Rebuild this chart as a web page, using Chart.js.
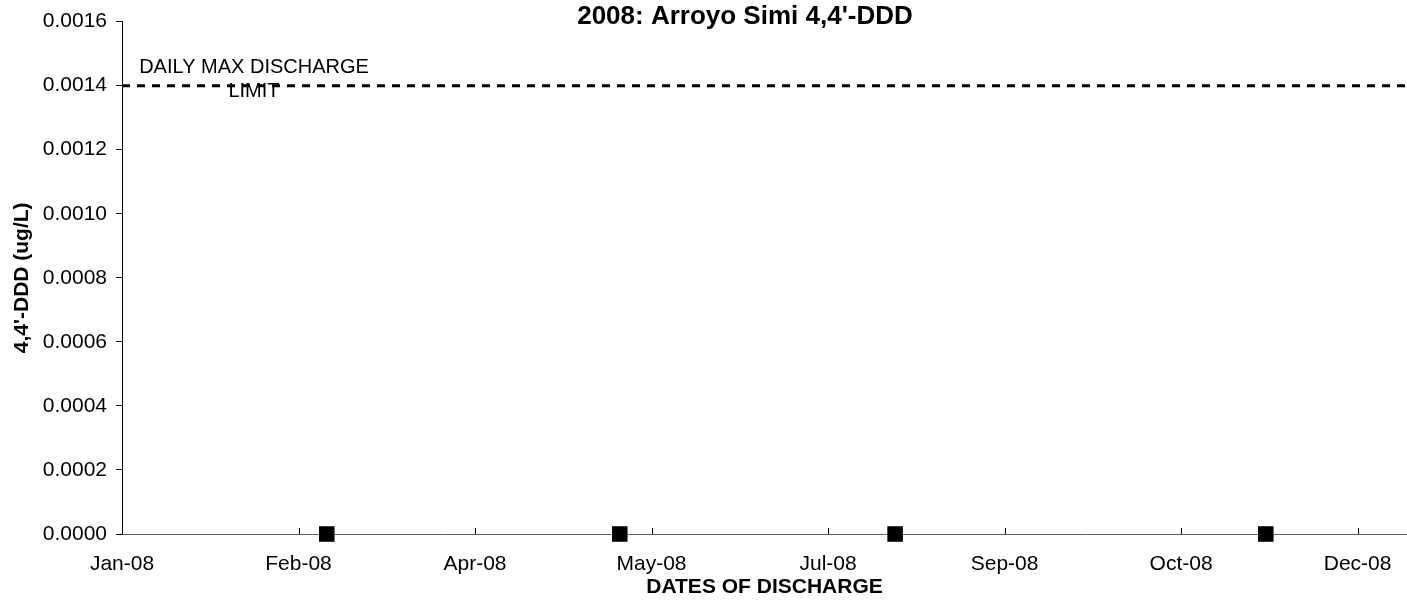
<!DOCTYPE html>
<html>
<head>
<meta charset="utf-8">
<script src="https://cdn.jsdelivr.net/npm/chart.js@4/dist/chart.umd.min.js"></script>
<style>
  html, body { margin: 0; padding: 0; background: #fff; }
  #wrap { width: 1407px; height: 600px; position: relative; }
</style>
</head>
<body>
<div id="wrap"><canvas id="chart"></canvas></div>
<script>
// sample dates and measured 4,4'-DDD (ug/L)
const sampleDates = ['2008-02-28', '2008-05-21', '2008-08-07', '2008-11-20'];
const dddValues = [0, 0, 0, 0];

// daily max discharge limit
const limitValue = 0.0014;
const limitLabel = ['DAILY MAX DISCHARGE', 'LIMIT'];

// axis range in days from 1 Jan 2008, ticks every 50 days (Excel style)
const xMin = 0, xMax = 364, xStep = 50;
const yMin = 0, yMax = 0.0016, yStep = 0.0002;

const chartTitle = "2008: Arroyo Simi 4,4'-DDD";
const xTitle = 'DATES OF DISCHARGE';
const yTitle = "4,4'-DDD (ug/L)";

const MONTHS = ['Jan','Feb','Mar','Apr','May','Jun','Jul','Aug','Sep','Oct','Nov','Dec'];
const base = Date.UTC(2008, 0, 1);
const toDay = s => (Date.parse(s + 'T00:00:00Z') - base) / 864e5;
const dayLabel = v => {
  const d = new Date(base + v * 864e5);
  return MONTHS[d.getUTCMonth()] + '-' + String(d.getUTCFullYear()).slice(2);
};

const FONT = "'Liberation Sans', Arial, sans-serif";

const extras = {
  id: 'extras',
  afterDraw(chart) {
    const {ctx, chartArea, scales} = chart;
    const x = scales.x, y = scales.y;
    ctx.save();
    // inward ticks on the x axis
    ctx.strokeStyle = '#000';
    ctx.lineWidth = 1;
    x.ticks.forEach(t => {
      const px = Math.round(x.getPixelForValue(t.value)) + 0.5;
      ctx.beginPath();
      ctx.moveTo(px, chartArea.bottom);
      ctx.lineTo(px, chartArea.bottom - 6);
      ctx.stroke();
    });
    // title
    ctx.fillStyle = '#000';
    ctx.font = 'bold 26px ' + FONT;
    ctx.textAlign = 'center';
    ctx.textBaseline = 'alphabetic';
    ctx.fillText(chartTitle, 745, 24);
    // limit label
    ctx.textBaseline = 'middle';
    ctx.font = '20px ' + FONT;
    const ly = y.getPixelForValue(limitValue);
    ctx.fillText(limitLabel[0], chartArea.left + 132, ly - 18);
    ctx.fillText(limitLabel[1], chartArea.left + 132, ly + 6);
    ctx.restore();
  }
};

new Chart(document.getElementById('chart'), {
  type: 'scatter',
  data: {
    datasets: [
      {
        label: 'limit',
        data: [{x: xMin, y: limitValue}, {x: xMax, y: limitValue}],
        showLine: true,
        borderColor: '#000',
        borderWidth: 3,
        borderDash: [8, 7],
        pointRadius: 0,
        fill: false
      },
      {
        label: "4,4'-DDD",
        data: sampleDates.map((d, i) => ({x: toDay(d), y: dddValues[i]})),
        pointStyle: 'rect',
        pointRadius: 11,
        pointHoverRadius: 11,
        backgroundColor: '#000',
        borderColor: '#000',
        borderWidth: 0,
        clip: false
      }
    ]
  },
  options: {
    responsive: true,
    maintainAspectRatio: false,
    animation: false,
    layout: { autoPadding: false, padding: { top: 20, right: 0, bottom: 0, left: 0 } },
    plugins: { legend: { display: false }, tooltip: { enabled: false } },
    scales: {
      x: {
        type: 'linear',
        min: xMin,
        max: xMax,
        afterFit(s) { s.height = 66; s.paddingRight = 0; },
        grid: { display: false, drawTicks: false },
        border: { display: true, color: '#606060', width: 1 },
        ticks: {
          stepSize: xStep,
          includeBounds: false,
          autoSkip: false,
          maxRotation: 0,
          padding: 18,
          color: '#000',
          font: { family: FONT, size: 21 },
          callback: v => dayLabel(v)
        },
        title: {
          display: true,
          text: xTitle,
          color: '#000',
          padding: 0,
          font: { family: FONT, size: 21, weight: 'bold' }
        }
      },
      y: {
        min: yMin,
        max: yMax,
        afterFit(s) { s.width = 122; },
        grid: { drawOnChartArea: false, drawTicks: true, tickLength: 6, color: '#000' },
        border: { display: true, color: '#000', width: 1 },
        ticks: {
          stepSize: yStep,
          padding: 9,
          color: '#000',
          font: { family: FONT, size: 21 },
          callback: v => v.toFixed(4)
        },
        title: {
          display: true,
          text: yTitle,
          color: '#000',
          padding: { top: 10, bottom: 0 },
          font: { family: FONT, size: 21, weight: 'bold' }
        }
      }
    }
  },
  plugins: [extras]
});
</script>
</body>
</html>
